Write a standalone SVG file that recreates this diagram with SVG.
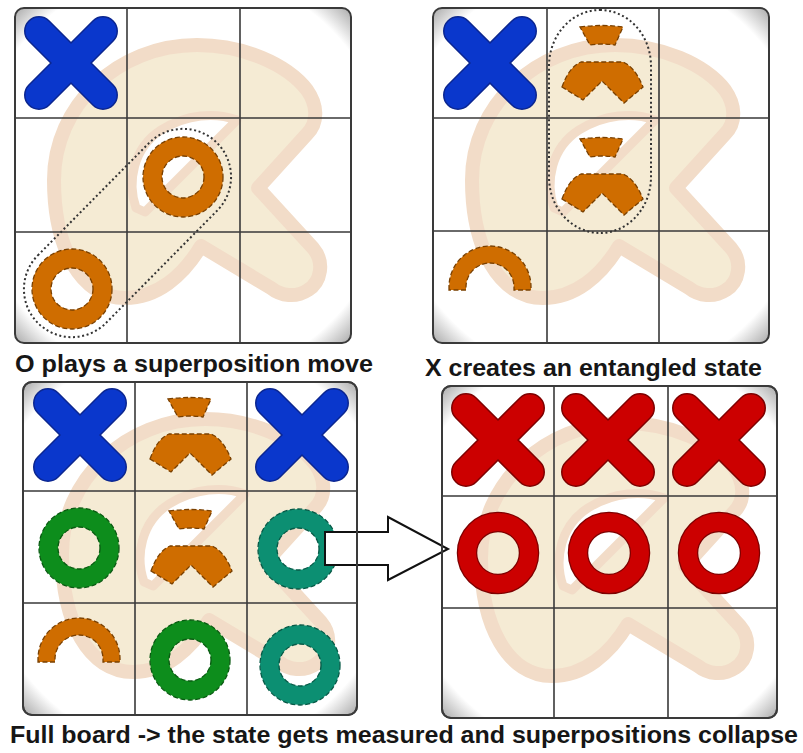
<svg xmlns="http://www.w3.org/2000/svg" xmlns:xlink="http://www.w3.org/1999/xlink" width="803" height="753" viewBox="0 0 803 753">
  <style>
    .bg { fill: url(#boardShade); }
    .frame { fill: none; stroke: #3a3a3a; stroke-width: 2; }
    .grid { fill: none; stroke: #3a3a3a; stroke-width: 1.6; }
    .mark-body { fill: #f5ebd4; stroke: #f2dcc8; stroke-width: 14; stroke-linejoin: round; }
    .mark-hole { fill: #ffffff; stroke: #f2dcc8; stroke-width: 9; stroke-linejoin: round; }
    .dotted { fill: none; stroke: #333; stroke-width: 2; stroke-dasharray: 2 2.6; }
    .caption { font-family: "Liberation Sans", Arial, sans-serif; font-weight: bold; font-size: 24px; fill: #161616; }
    .edge { fill: none; stroke-width: 1.3; stroke-dasharray: 5 2.5; }
    .arrow { fill: #ffffff; stroke: #111; stroke-width: 2; stroke-linejoin: miter; }
  </style>
  <defs>
    <radialGradient id="boardShade" cx="0.5" cy="0.5" r="0.72">
      <stop offset="0.86" stop-color="#ffffff"/>
      <stop offset="1" stop-color="#9c9c9c"/>
    </radialGradient>

    <!-- faint logo mark behind every board, coordinates relative to the board corner -->
    <g id="mark">
      <path class="mark-body" d="M39,172 C39,98 102,37 182,37 C228,37 272,56 292,82 C302,96 304,114 292,126 L243,180 L298,240 C310,254 306,274 293,282 C281,290 266,288 256,280 L186,238 C168,268 142,290 110,290 C66,290 39,240 39,172 Z"/>
      <path class="mark-hole" d="M121,200 C112,174 118,140 146,122 C172,106 200,104 222,112 L130,204 Z"/>
    </g>

    <!-- X marks -->
    <g id="xBlue">
      <path d="M-32,-32 L32,32 M32,-32 L-32,32" stroke="#0b2690" stroke-width="30" stroke-linecap="round"/>
      <path d="M-32,-32 L32,32 M32,-32 L-32,32" stroke="#0a37cc" stroke-width="27" stroke-linecap="round"/>
    </g>
    <g id="xRed">
      <path d="M-32,-32 L32,32 M32,-32 L-32,32" stroke="#7e0000" stroke-width="30" stroke-linecap="round"/>
      <path d="M-32,-32 L32,32 M32,-32 L-32,32" stroke="#cc0000" stroke-width="27" stroke-linecap="round"/>
    </g>

    <!-- O marks -->
    <g id="oRed">
      <circle r="31" fill="none" stroke="#7e0000" stroke-width="20.5"/>
      <circle r="31" fill="none" stroke="#cc0000" stroke-width="18"/>
    </g>
    <g id="oOrange">
      <circle r="30.5" fill="none" stroke="#cf6d00" stroke-width="19"/>
      <circle r="40" class="edge" stroke="#7a4000"/>
      <circle r="21" class="edge" stroke="#7a4000"/>
    </g>
    <g id="oGreen">
      <circle r="30.5" fill="none" stroke="#0d8d1c" stroke-width="19"/>
      <circle r="40" class="edge" stroke="#0a5a12"/>
      <circle r="21" class="edge" stroke="#0a5a12"/>
    </g>
    <g id="oTeal">
      <circle r="30.5" fill="none" stroke="#0c8f72" stroke-width="19"/>
      <circle r="40" class="edge" stroke="#075a47"/>
      <circle r="21" class="edge" stroke="#075a47"/>
    </g>

    <!-- entangled fragment: small cap above a chevron -->
    <g id="split">
      <path d="M-23,-36 Q0,-39 20,-36 L12,-18 Q0,-20 -13,-18 Z" fill="#cf6d00"/>
      <path d="M-23,-36 Q0,-39 20,-36 L12,-18 Q0,-20 -13,-18 Z" class="edge" stroke="#7a4000"/>
      <path d="M-41,24 Q-34,4 -22,-1 L20,-1 Q32,4 40,24 L21,40 L-1,18 L-20,37 Z" fill="#cf6d00"/>
      <path d="M-41,24 Q-34,4 -22,-1 L20,-1 Q32,4 40,24 L21,40 L-1,18 L-20,37 Z" class="edge" stroke="#7a4000"/>
    </g>

    <!-- half ring fragment -->
    <g id="arc">
      <path d="M-41,3 L-41,0 A41,41 0 0 1 41,0 L41,3 L24,3 L24,0 A24,24 0 0 0 -24,0 L-24,3 Z" fill="#cf6d00"/>
      <path d="M-41,3 L-41,0 A41,41 0 0 1 41,0 L41,3 L24,3 L24,0 A24,24 0 0 0 -24,0 L-24,3 Z" class="edge" stroke="#7a4000"/>
    </g>
  </defs>

  <rect width="803" height="753" fill="#ffffff"/>

  <!-- Board 1: O plays a superposition move -->
  <g id="board-1">
    <rect class="bg" x="15" y="8" width="336" height="335" rx="9"/>
    <use href="#mark" x="15" y="8"/>
    <path class="grid" d="M127,8 V343 M240,8 V343 M15,118 H351 M15,232 H351"/>
    <use href="#xBlue" x="71" y="63"/>
    <use href="#oOrange" x="183" y="177"/>
    <use href="#oOrange" x="72" y="289"/>
    <rect class="dotted" x="-127" y="-48" width="254" height="96" rx="48" transform="translate(127.5 233) rotate(-45.3)"/>
    <rect class="frame" x="15" y="8" width="336" height="335" rx="9"/>
  </g>

  <!-- Board 2: X creates an entangled state -->
  <g id="board-2">
    <rect class="bg" x="433" y="8" width="336" height="335" rx="9"/>
    <use href="#mark" x="433" y="8"/>
    <path class="grid" d="M547,8 V343 M659,8 V343 M433,118 H769 M433,231 H769"/>
    <use href="#xBlue" x="490" y="63"/>
    <use href="#split" x="603" y="63"/>
    <use href="#split" x="603" y="175"/>
    <use href="#arc" x="490" y="287"/>
    <rect class="dotted" x="549" y="10" width="102" height="223" rx="51" ry="56"/>
    <rect class="frame" x="433" y="8" width="336" height="335" rx="9"/>
  </g>

  <!-- Board 3: full board before measurement -->
  <g id="board-3">
    <rect class="bg" x="23" y="382" width="334" height="333" rx="9"/>
    <use href="#mark" x="23" y="382"/>
    <path class="grid" d="M135,382 V715 M247,382 V715 M23,491 H357 M23,603 H357"/>
    <use href="#xBlue" x="80" y="435"/>
    <use href="#split" x="191" y="435"/>
    <use href="#xBlue" x="302" y="435"/>
    <use href="#oGreen" x="79" y="548"/>
    <use href="#split" x="192" y="547"/>
    <use href="#oTeal" x="298" y="549"/>
    <use href="#arc" x="79" y="659"/>
    <use href="#oGreen" x="190" y="660"/>
    <use href="#oTeal" x="300" y="665"/>
    <rect id="b3-frame" class="frame" x="23" y="382" width="334" height="333" rx="9"/>
  </g>

  <!-- Board 4: collapsed result -->
  <g id="board-4">
    <rect class="bg" x="442" y="386" width="335" height="332" rx="9"/>
    <use href="#mark" x="442" y="386"/>
    <path class="grid" d="M554,386 V718 M668,386 V718 M442,496 H777 M442,608 H777"/>
    <use href="#xRed" x="498" y="440"/>
    <use href="#xRed" x="608" y="440"/>
    <use href="#xRed" x="719" y="440"/>
    <use href="#oRed" x="498" y="553"/>
    <use href="#oRed" x="609" y="553"/>
    <use href="#oRed" x="719" y="553"/>
    <rect id="b4-frame" class="frame" x="442" y="386" width="335" height="332" rx="9"/>
  </g>

  <!-- block arrow from the full board to the collapsed board -->
  <g id="connectors">
    <path class="arrow" d="M325,532 H388 V517 L448,549 L388,580 V565 H325 Z"/>
    <use href="#b3-frame"/>
    <use href="#b4-frame"/>
  </g>

  <g id="captions">
    <text class="caption" x="15" y="372" textLength="358" lengthAdjust="spacingAndGlyphs">O plays a superposition move</text>
    <text class="caption" x="425" y="376" textLength="337" lengthAdjust="spacingAndGlyphs">X creates an entangled state</text>
    <text class="caption" x="10" y="743" textLength="788" lengthAdjust="spacingAndGlyphs">Full board -&gt; the state gets measured and superpositions collapse</text>
  </g>
</svg>
